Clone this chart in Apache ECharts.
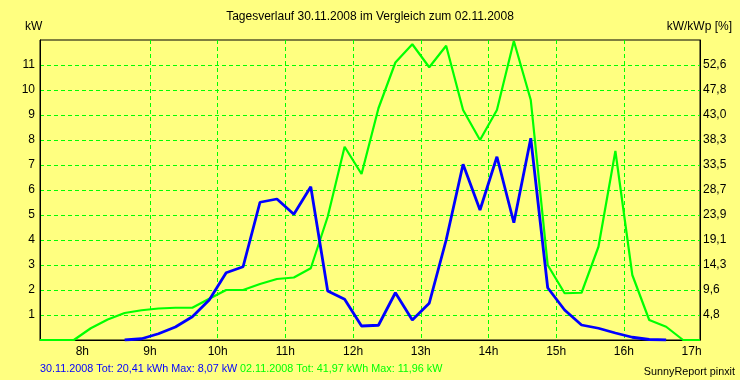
<!DOCTYPE html>
<html>
<head>
<meta charset="utf-8">
<script src="https://cdn.jsdelivr.net/npm/echarts@6/dist/echarts.min.js"></script>
<style>
html,body{margin:0;padding:0;background:#FFFF80;}
#chart{width:740px;height:380px;}
</style>
</head>
<body>
<div id="chart"></div>
<script>
// Time of each sample (hours, centre of each 15-minute interval)
var times = [7.375,7.625,7.875,8.125,8.375,8.625,8.875,9.125,9.375,9.625,
             9.875,10.125,10.375,10.625,10.875,11.125,11.375,11.625,11.875,12.125,
             12.375,12.625,12.875,13.125,13.375,13.625,13.875,14.125,14.375,14.625,
             14.875,15.125,15.375,15.625,15.875,16.125,16.375,16.625,16.875,17.125];
// 02.11.2008 (green), kW
var day0211 = [0,0,0,0.47,0.82,1.08,1.19,1.26,1.29,1.29,
               1.65,2.0,2.0,2.24,2.44,2.5,2.87,4.93,7.73,6.64,
               9.27,11.1,11.83,10.91,11.77,9.2,8.0,9.2,11.96,9.6,
               3.0,1.87,1.89,3.73,7.56,2.6,0.8,0.53,0,0];
// 30.11.2008 (blue), kW
var day3011 = [null,null,null,null,null,0,0.05,0.25,0.52,0.93,
               1.6,2.69,2.93,5.51,5.64,5.03,6.13,1.96,1.63,0.56,
               0.59,1.89,0.8,1.47,4.0,7.03,5.2,7.33,4.69,8.07,
               2.09,1.2,0.6,0.47,0.28,0.11,0.02,0,null,null];
var hourTicks = [8,9,10,11,12,13,14,15,16,17];
var leftTickLabels = ['1','2','3','4','5','6','7','8','9','10','11'];
var rightTickLabels = ['4,8','9,6','14,3','19,1','23,9','28,7','33,5','38,3','43,0','47,8','52,6'];
var titleText = 'Tagesverlauf 30.11.2008 im Vergleich zum 02.11.2008';
var footerBlue = '30.11.2008 Tot: 20,41 kWh Max: 8,07 kW';
var footerGreen = '02.11.2008 Tot: 41,97 kWh Max: 11,96 kW';
var credit = 'SunnyReport pinxit';

function pairs(vals){ return vals.map(function(v,i){ return [times[i], v]; }); }

var FONT = 'Liberation Sans';
var chart = echarts.init(document.getElementById('chart'), null, {renderer:'canvas'});
chart.setOption({
  animation:false,
  backgroundColor:'#FFFF80',
  textStyle:{fontFamily:FONT},
  title:[
    {text:titleText, left:'center', top:6, textStyle:{fontSize:12, fontWeight:'normal', color:'#000', fontFamily:FONT}},
    {text:'kW', left:20, top:16, textStyle:{fontSize:12, fontWeight:'normal', color:'#000', fontFamily:FONT}},
    {text:'kW/kWp [%]', right:3, top:16, textStyle:{fontSize:12, fontWeight:'normal', color:'#000', fontFamily:FONT}},
    {text:footerBlue, left:35, top:359, textStyle:{fontSize:10.8, fontWeight:'normal', color:'#0000FF', fontFamily:FONT}},
    {text:footerGreen, left:235, top:359, textStyle:{fontSize:10.8, fontWeight:'normal', color:'#00FF00', fontFamily:FONT}},
    {text:credit, right:0, top:362, textStyle:{fontSize:10.8, fontWeight:'normal', color:'#000', fontFamily:FONT}}
  ],
  grid:{left:40, right:40, top:40, bottom:40, show:true, borderColor:'#000', borderWidth:1, backgroundColor:'transparent', outerBoundsMode:'none'},
  xAxis:{
    type:'value', min:times[0], max:times[times.length-1],
    axisLine:{show:true, lineStyle:{color:'#000', width:1}},
    axisTick:{show:false, customValues:hourTicks},
    axisLabel:{customValues:hourTicks, formatter:function(v){return Math.round(v)+'h';}, color:'#000', fontSize:12, margin:6, fontFamily:FONT},
    splitLine:{show:true, showMinLine:false, showMaxLine:false, lineStyle:{color:'#00FF00', type:[4,3], width:1}}
  },
  yAxis:[
    {type:'value', min:0, max:12, interval:1, position:'left',
     axisLine:{show:true, lineStyle:{color:'#000'}}, axisTick:{show:false},
     axisLabel:{color:'#000', fontSize:12, margin:5, fontFamily:FONT,
       formatter:function(v){ return (v>=1 && v<=11) ? leftTickLabels[v-1] : ''; }},
     splitLine:{show:true, showMinLine:false, showMaxLine:false, lineStyle:{color:'#00FF00', type:[4,3], width:1}}},
    {type:'value', min:0, max:12, interval:1, position:'right',
     axisLine:{show:true, lineStyle:{color:'#000'}}, axisTick:{show:false},
     axisLabel:{color:'#000', fontSize:12, margin:3, fontFamily:FONT,
       formatter:function(v){ return (v>=1 && v<=11) ? rightTickLabels[v-1] : ''; }},
     splitLine:{show:false}}
  ],
  series:[
    {type:'line', name:'02.11.2008', data:pairs(day0211), showSymbol:false, symbol:'none',
     lineStyle:{color:'#00FF00', width:2.2}, itemStyle:{color:'#00FF00'}, z:3},
    {type:'line', name:'30.11.2008', data:pairs(day3011), showSymbol:false, symbol:'none', connectNulls:false,
     lineStyle:{color:'#0000FF', width:2.8}, itemStyle:{color:'#0000FF'}, z:4}
  ]
});
</script>
</body>
</html>
